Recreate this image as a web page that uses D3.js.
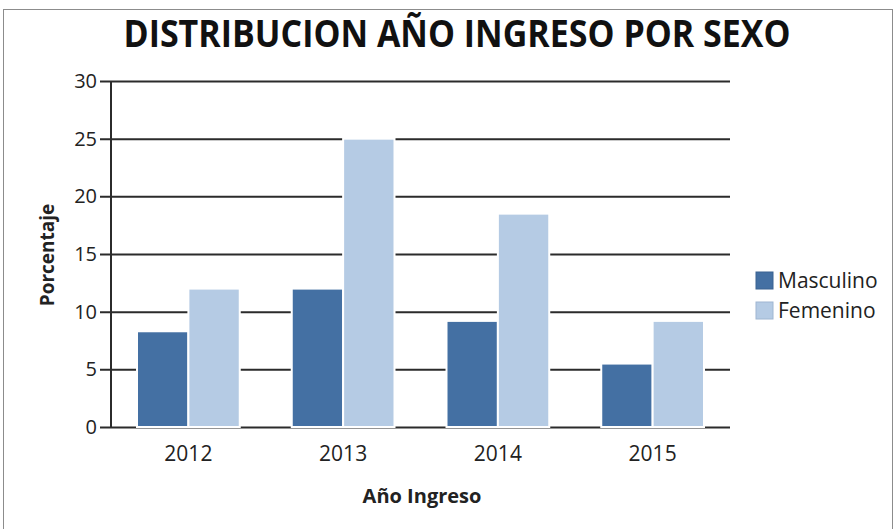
<!DOCTYPE html>
<html>
<head>
<meta charset="utf-8">
<script src="https://cdn.jsdelivr.net/npm/d3@7"></script>
<style>
  body { margin: 0; background: #fff; }
  text { font-family: "Open Sans", "Noto Sans", sans-serif; fill: #222; }
</style>
</head>
<body>
<div id="chart"></div>
<script>
var years = ["2012", "2013", "2014", "2015"];
var series = ["Masculino", "Femenino"];
var masculino = [8.3, 12, 9.2, 5.5];
var femenino = [12, 25, 18.5, 9.2];
var yTicks = [0, 5, 10, 15, 20, 25, 30];
var colors = ["#4470a3", "#b5cbe4"];

var svgWidth = 895;
var svgHeight = 529;
var margin = { top: 81, right: 165, bottom: 102, left: 111 };
var width = svgWidth - margin.left - margin.right;
var height = svgHeight - margin.top - margin.bottom;

var svg = d3.select("#chart")
  .append("svg")
  .attr("width", svgWidth)
  .attr("height", svgHeight);

// outer frame
svg.append("rect")
  .attr("x", 3.5).attr("y", 9.5)
  .attr("width", 889).attr("height", 530)
  .attr("fill", "none")
  .attr("stroke", "#8c8c8c");

svg.append("text")
  .attr("x", 457)
  .attr("y", 47)
  .attr("text-anchor", "middle")
  .attr("textLength", 667)
  .attr("lengthAdjust", "spacingAndGlyphs")
  .style("font-size", "37px")
  .style("font-weight", "bold")
  .style("fill", "#111")
  .text("DISTRIBUCION AÑO INGRESO POR SEXO");

var chartGroup = svg.append("g")
  .attr("transform", `translate(${margin.left}, ${margin.top})`);

var x0 = d3.scaleBand().domain(years).range([0, width]).paddingInner(0).paddingOuter(0);
var x1 = d3.scaleBand().domain(series).range([26, x0.bandwidth() - 26]).paddingInner(0);
var y = d3.scaleLinear().domain([0, 30]).range([height, 0]);

// gridlines + ticks
var leftAxis = d3.axisLeft(y).tickValues(yTicks).tickSize(-width).tickPadding(14);
var gy = chartGroup.append("g").call(leftAxis);
gy.select(".domain").remove();
gy.selectAll(".tick line")
  .attr("x1", -11)
  .attr("stroke", "#2b2b2b")
  .attr("stroke-width", 2);
gy.selectAll(".tick text")
  .style("font-size", "20px")
  .style("fill", "#222");

// bars
var data = years.map(function(yr, i) {
  return { year: yr, values: [masculino[i], femenino[i]] };
});

var groups = chartGroup.selectAll(".yr")
  .data(data)
  .enter()
  .append("g")
  .attr("transform", d => `translate(${x0(d.year)}, 0)`);

groups.selectAll("rect")
  .data(d => d.values.map((v, j) => ({ key: series[j], value: v, j: j })))
  .enter()
  .append("rect")
  .attr("x", d => x1(d.key))
  .attr("y", d => y(d.value))
  .attr("width", x1.bandwidth())
  .attr("height", d => height - y(d.value))
  .attr("fill", d => colors[d.j])
  .attr("stroke", "#fff")
  .attr("stroke-width", 2);

// vertical axis line
chartGroup.append("line")
  .attr("x1", 0).attr("x2", 0)
  .attr("y1", 0).attr("y2", height + 1)
  .attr("stroke", "#2b2b2b")
  .attr("stroke-width", 2);

// x axis labels
var bottomAxis = d3.axisBottom(x0).tickSize(0).tickPadding(19);
var gx = chartGroup.append("g")
  .attr("transform", `translate(0, ${height})`)
  .call(bottomAxis);
gx.select(".domain").remove();
gx.selectAll(".tick text")
  .style("font-size", "21px")
  .style("fill", "#222");

// axis titles
chartGroup.append("text")
  .attr("transform", "rotate(-90)")
  .attr("x", -(255 - margin.top))
  .attr("y", -57)
  .attr("text-anchor", "middle")
  .style("font-size", "19px")
  .style("font-weight", "bold")
  .text("Porcentaje");

chartGroup.append("text")
  .attr("x", 422 - margin.left)
  .attr("y", 503 - margin.top)
  .attr("text-anchor", "middle")
  .style("font-size", "20px")
  .style("font-weight", "bold")
  .text("Año Ingreso");

// legend
var legend = svg.append("g").attr("transform", "translate(756, 272)");
var li = legend.selectAll("g")
  .data(series)
  .enter()
  .append("g")
  .attr("transform", (d, i) => `translate(0, ${i * 30})`);
li.append("rect")
  .attr("width", 17).attr("height", 17)
  .attr("fill", (d, i) => colors[i])
  .attr("stroke", (d, i) => i === 0 ? "#3a6291" : "#9fb6d1")
  .attr("stroke-width", 1);
li.append("text")
  .attr("x", 22)
  .attr("y", 16)
  .style("font-size", "21px")
  .text(d => d);
</script>
</body>
</html>
